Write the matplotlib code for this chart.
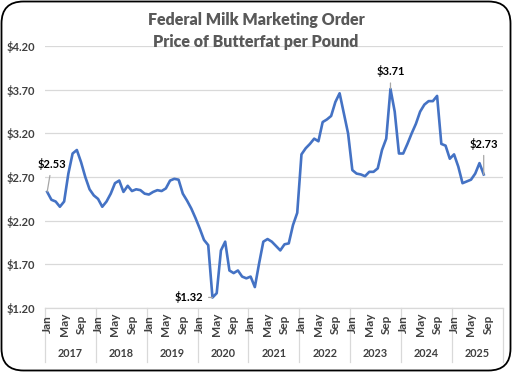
import numpy as np
import matplotlib
matplotlib.use("Agg")
import matplotlib.pyplot as plt
from matplotlib.patches import FancyBboxPatch
from matplotlib.transforms import IdentityTransform, blended_transform_factory

plt.rcParams['font.family'] = ['Lato', 'DejaVu Sans']

# monthly butterfat price, Jan 2017 .. Aug 2025
years = ['2017', '2018', '2019', '2020', '2021', '2022', '2023', '2024', '2025']
month_names = ['Jan', 'Feb', 'Mar', 'Apr', 'May', 'Jun',
               'Jul', 'Aug', 'Sep', 'Oct', 'Nov', 'Dec']
price = [
    2.53, 2.44, 2.42, 2.36, 2.42, 2.74, 2.97, 3.01, 2.87, 2.70, 2.56, 2.49,  # 2017
    2.45, 2.36, 2.42, 2.51, 2.63, 2.66, 2.53, 2.60, 2.54, 2.56, 2.55, 2.51,  # 2018
    2.50, 2.53, 2.55, 2.54, 2.57, 2.66, 2.68, 2.67, 2.51, 2.43, 2.34, 2.23,  # 2019
    2.11, 1.98, 1.92, 1.32, 1.37, 1.86, 1.96, 1.63, 1.60, 1.63, 1.56, 1.54,  # 2020
    1.56, 1.44, 1.71, 1.96, 1.99, 1.96, 1.91, 1.86, 1.93, 1.94, 2.15, 2.29,  # 2021
    2.96, 3.03, 3.08, 3.14, 3.11, 3.33, 3.36, 3.40, 3.56, 3.66, 3.43, 3.20,  # 2022
    2.78, 2.74, 2.73, 2.71, 2.76, 2.76, 2.80, 3.01, 3.14, 3.71, 3.45, 2.97,  # 2023
    2.97, 3.08, 3.20, 3.31, 3.45, 3.53, 3.57, 3.57, 3.63, 3.08, 3.06, 2.91,  # 2024
    2.96, 2.82, 2.63, 2.65, 2.67, 2.74, 2.86, 2.73,                          # 2025
]
y_ticks = [1.20, 1.70, 2.20, 2.70, 3.20, 3.70, 4.20]

# labelled points: (index, text position in data units)
callouts = [(0, (1.1, 2.85)), (39, (33.4, 1.33)), (81, (81, 3.91)), (103, (103, 3.08))]

txt = '#404040'
fig = plt.figure(figsize=(5.12, 3.72), dpi=100)
ax = fig.add_axes([0.088, 0.172, 0.894, 0.704])

n_cat = len(years) * 12
x = np.arange(len(price))
ax.plot(x, price, color='#4472C4', lw=1.9, solid_joinstyle='round', zorder=3)

ax.set_xlim(-0.5, n_cat - 0.5)
ax.set_ylim(1.20, 4.20)
ax.set_yticks(y_ticks)
ax.set_yticklabels([f'${v:.2f}' for v in y_ticks], fontsize=8, fontweight='bold', color=txt)
ax.tick_params(axis='y', length=0, pad=7)
ax.grid(axis='y', color='#d9d9d9', lw=0.9)
ax.set_axisbelow(True)
ax.set_xticks([])
for s in ['top', 'right', 'left']:
    ax.spines[s].set_visible(False)
ax.spines['bottom'].set_color('#d9d9d9')
ax.spines['bottom'].set_linewidth(0.9)

# two-level category axis
tr = blended_transform_factory(ax.transData, ax.transAxes)
for i in range(n_cat):
    if i % 4 == 0:
        ax.text(i, -0.061, month_names[i % 12], transform=tr, rotation=90,
                ha='center', va='center', fontsize=8.5, fontweight='bold', color=txt)
for k, yr in enumerate(years):
    ax.text(k * 12 + 5.5, -0.174, yr, transform=tr, ha='center', va='center',
            fontsize=7.8, fontweight='bold', color=txt)
for k in range(len(years) + 1):
    ax.plot([k * 12 - 0.5] * 2, [0, -0.205], transform=tr, color='#d9d9d9',
            lw=0.9, clip_on=False)

for idx, (tx, ty) in callouts:
    ax.annotate(f'${price[idx]:.2f}', xy=(idx, price[idx]), xytext=(tx, ty),
                ha='center', va='center', fontsize=8, fontweight='bold', color='black',
                annotation_clip=False,
                arrowprops=dict(arrowstyle='-', color='#a6a6a6', lw=0.9,
                                shrinkA=2, shrinkB=0))

fig.text(0.5, 0.945, 'Federal Milk Marketing Order', ha='center', va='center',
         fontsize=11.5, fontweight='heavy', color='#595959')
fig.text(0.5, 0.886, 'Price of Butterfat per Pound', ha='center', va='center',
         fontsize=11.5, fontweight='heavy', color='#595959')

border = FancyBboxPatch((1.5, 1.5), 509, 369, boxstyle='round,pad=0,rounding_size=22',
                        transform=IdentityTransform(), fill=False, ec='black', lw=1.3)
fig.add_artist(border)

fig.savefig('out.png', dpi=100)
